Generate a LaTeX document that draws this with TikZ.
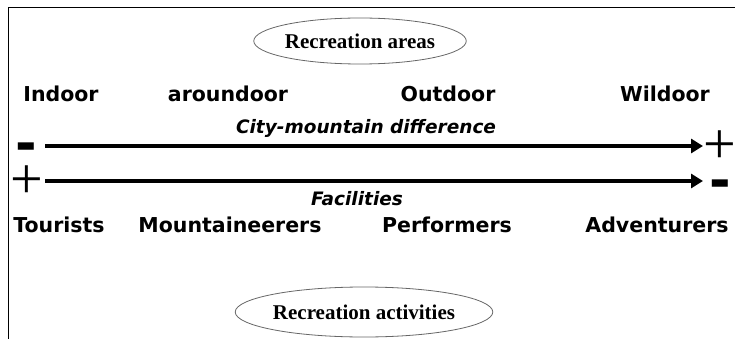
\documentclass[tikz,border=0pt]{standalone}
\usepackage{fontspec}
\setsansfont{DejaVu Sans}
\newfontfamily\ovalfont{Liberation Serif}
\usetikzlibrary{arrows.meta}
\usetikzlibrary{shapes.geometric}

\tikzset{
  lbl/.style={anchor=base, inner sep=0pt, font=\sffamily\bfseries\fontsize{20.5}{24}\selectfont},
  axislbl/.style={anchor=base, inner sep=0pt, font=\sffamily\bfseries\itshape\fontsize{18.5}{22}\selectfont},
  oval/.style={ellipse, draw=black!60, line width=0.8pt, inner sep=0pt,
    font=\ovalfont\bfseries\fontsize{21}{25}\selectfont},
  axis/.style={line width=4.5pt, -{Triangle[length=12pt,width=14pt]}},
  plussgn/.style={anchor=base, inner sep=0pt, font=\ovalfont\fontsize{58}{62}\selectfont},
  minussgn/.style={anchor=base, inner sep=0pt, font=\sffamily\bfseries\fontsize{52}{56}\selectfont},
}

\begin{document}
\begin{tikzpicture}[x=1pt, y=-1pt]
  \useasboundingbox (0,0) rectangle (735,339);
  \draw[line width=1pt] (8,339) -- (8,8) -- (735,8); %frame

  \node[oval, minimum width=204pt, minimum height=46pt] (areas) at (360,41) {Recreation areas};
  \node[oval, minimum width=228pt, minimum height=50pt] (activities) at (364,312) {Recreation activities};

  % recreation areas
  \node[lbl] (indoor) at (61,102) {Indoor};
  \node[lbl] (aroundoor) at (228,102) {aroundoor};
  \node[lbl] (outdoor) at (448,102) {Outdoor};
  \node[lbl] (wildoor) at (665,102) {Wildoor};

  % city-mountain difference
  \node[axislbl] (citymtn) at (366,134) {City-mountain difference};
  \node[minussgn] (minusL) at (26,161.5) {-};
  \node[plussgn] (plusR) at (720,163.4) {+};
  \coordinate (cmStart) at (45,146);
  \coordinate (cmEnd) at (703,146);
  \draw[axis] (cmStart) -- (cmEnd);

  % facilities
  \node[plussgn] (plusL) at (27,198.4) {+};
  \node[minussgn] (minusR) at (720,198.5) {-};
  \coordinate (facStart) at (45,181);
  \coordinate (facEnd) at (703,181);
  \draw[axis] (facStart) -- (facEnd);
  \node[axislbl] (facilities) at (357,205) {Facilities};

  % recreation activities
  \node[lbl] (tourists) at (59,232) {Tourists};
  \node[lbl] (mountaineerers) at (230,232) {Mountaineerers};
  \node[lbl] (performers) at (447,232) {Performers};
  \node[lbl] (adventurers) at (657,232) {Adventurers};
\end{tikzpicture}
\end{document}
